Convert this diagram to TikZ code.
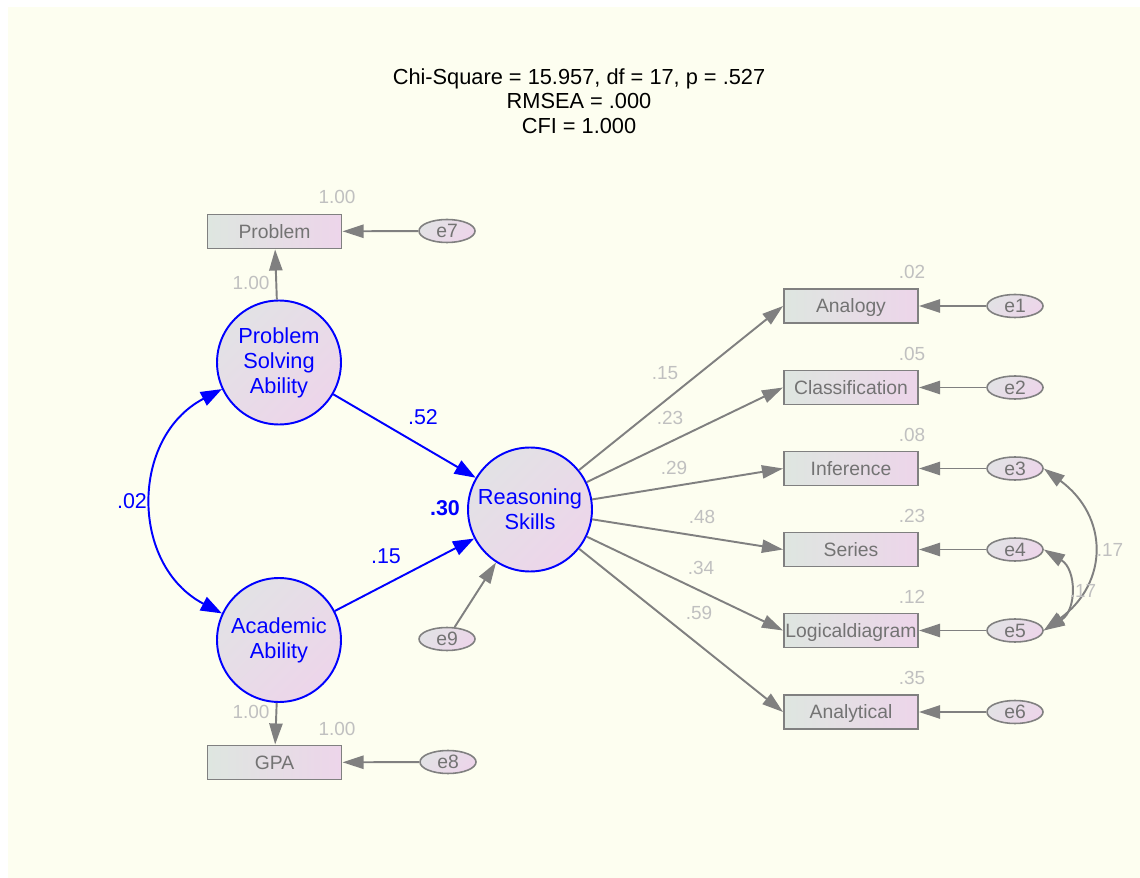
\documentclass[tikz,border=0pt]{standalone}
\usepackage{fontspec}
\setmainfont{Liberation Sans}
\usepackage{tikz}
\usetikzlibrary{arrows.meta,shapes.geometric,positioning}

\definecolor{bgyellow}{RGB}{253,254,240}
\definecolor{linegray}{RGB}{128,128,128}
\definecolor{valgray}{RGB}{192,192,192}
\definecolor{txtgray}{RGB}{115,115,115}
\definecolor{fillgreen}{RGB}{222,230,224}
\definecolor{fillgrey}{RGB}{226,226,229}
\definecolor{fillpink}{RGB}{237,213,234}

\begin{document}
\begin{tikzpicture}[x=0.02cm, y=-0.02cm,
		latent/.style={circle, draw=blue, line width=1.1pt, minimum size=2.48cm, inner sep=0pt,
			top color=fillgrey, bottom color=fillpink, shading angle=45,
			text=blue, align=center, font=\fontsize{12.4}{14.2}\selectfont},
		observed/.style={rectangle, draw=linegray, line width=1.1pt, minimum width=2.68cm,
			minimum height=0.68cm, inner sep=0pt, left color=fillgreen, right color=fillpink,
			text=txtgray, text height=7.9pt, text depth=0pt, font=\fontsize{11}{13}\selectfont},
		errvar/.style={ellipse, draw=linegray, line width=0.9pt, minimum width=1.12cm,
			minimum height=0.46cm, inner sep=0pt, top color=fillgrey, bottom color=fillpink,
			shading angle=45, text=txtgray, text height=7.9pt, text depth=0pt,
			font=\fontsize{11}{13}\selectfont},
		estim/.style={text=valgray, inner sep=0pt, font=\fontsize{10.8}{13}\selectfont},
		coef/.style={text=blue, inner sep=0pt, font=\fontsize{12.2}{14}\selectfont},
		gline/.style={draw=linegray, line width=1.1pt, -{Triangle[length=12pt, width=7.5pt]}},
		bline/.style={draw=blue, line width=1.1pt, -{Triangle[length=12pt, width=8.5pt]}},
		gcov/.style={draw=linegray, line width=1.1pt, {Triangle[length=12pt, width=7.5pt]}-{Triangle[length=12pt, width=7.5pt]}},
		bcov/.style={draw=blue, line width=1.1pt, {Triangle[length=12pt, width=8.5pt]}-{Triangle[length=12pt, width=8.5pt]}}
		]

		% --- fond ---
		\useasboundingbox (0,0) rectangle (1140,878);
		\fill[white] (0,0) rectangle (1140,878);
		\fill[bgyellow] (8,7) rectangle (1140,878);

		% --- indices d'ajustement ---
		\node[align=center, font=\fontsize{12.4}{13.9}\selectfont] (fit) at (579,101)
			{Chi-Square = 15.957, df = 17, p = .527\\RMSEA = .000\\CFI = 1.000};

		% --- variables latentes ---
		\node[latent] (PSA) at (279,362.5) {Problem\\Solving\\Ability};
		\node[latent] (AA) at (279,640) {Academic\\Ability};
		\node[latent] (RS) at (530,509.5) {Reasoning\\Skills};

		% --- variables observées (gauche) ---
		\node[observed] (Problem) at (274.5,231.5) {Problem};
		\node[observed] (GPA) at (274.5,762.5) {GPA};
		\node[errvar] (e7) at (447,231) {e7};
		\node[errvar] (e8) at (448,762) {e8};
		\node[errvar] (e9) at (447,639) {e9};

		% --- variables observées (droite) ---
		\node[observed] (Analogy) at (851,306) {Analogy};
		\node[observed] (Classification) at (851,387.5) {Classification};
		\node[observed] (Inference) at (851,468.5) {Inference};
		\node[observed] (Series) at (851,549.5) {Series};
		\node[observed] (Logical) at (851,630.5) {Logicaldiagram};
		\node[observed] (Analytical) at (851,712) {Analytical};

		\node[errvar] (e1) at (1015,306) {e1};
		\node[errvar] (e2) at (1015,387.5) {e2};
		\node[errvar] (e3) at (1015,468.5) {e3};
		\node[errvar] (e4) at (1015,549.5) {e4};
		\node[errvar] (e5) at (1015,630.5) {e5};
		\node[errvar] (e6) at (1015,712) {e6};

		% Variances expliquées
		\node[estim] (rProblem) at (337,197) {1.00};
		\node[estim] (rGPA) at (337,729) {1.00};
		\node[estim] (rAnalogy) at (912,272) {.02};
		\node[estim] (rClassification) at (912,353.5) {.05};
		\node[estim] (rInference) at (912,434.5) {.08};
		\node[estim] (rSeries) at (912,515.5) {.23};
		\node[estim] (rLogical) at (912,596.5) {.12};
		\node[estim] (rAnalytical) at (912,678) {.35};
		\node[coef, font=\fontsize{12.2}{14}\selectfont\bfseries] (rRS) at (445,508) {.30};

		% Arcs structurels
		\draw[bline] (PSA) -- (RS);
		\draw[bline] (AA) -- (RS);
		\draw[bcov] (PSA.205) .. controls +(-92,48) and +(-92,-48) .. (AA.155);
		\node[coef] (cPSA) at (423,417) {.52};
		\node[coef] (cAA) at (386,556) {.15};
		\node[coef] (cCov) at (132,501) {.02};

		% Arcs de mesure
		\draw[gline] (PSA) -- (Problem);
		\draw[gline] (AA) -- (GPA);
		\draw[gline] (e7) -- (Problem);
		\draw[gline] (e8) -- (GPA);
		\draw[gline] (e9) -- (RS);
		\node[estim] (lProblem) at (251,283) {1.00};
		\node[estim] (lGPA) at (251,712) {1.00};

		\draw[gline] (RS) -- (Analogy.west);
		\draw[gline] (RS) -- (Classification.west);
		\draw[gline] (RS) -- (Inference.west);
		\draw[gline] (RS) -- (Series.west);
		\draw[gline] (RS) -- (Logical.west);
		\draw[gline] (RS) -- (Analytical.west);
		\node[estim] (lAnalogy) at (665,373) {.15};
		\node[estim] (lClassification) at (670,418) {.23};
		\node[estim] (lInference) at (674,468) {.29};
		\node[estim] (lSeries) at (702,517) {.48};
		\node[estim] (lLogical) at (701,568) {.34};
		\node[estim] (lAnalytical) at (699,613) {.59};

		\draw[gline] (e1) -- (Analogy);
		\draw[gline] (e2) -- (Classification);
		\draw[gline] (e3) -- (Inference);
		\draw[gline] (e4) -- (Series);
		\draw[gline] (e5) -- (Logical);
		\draw[gline] (e6) -- (Analytical);

		% Covariances des erreurs
		\draw[gcov] (e3.east) .. controls +(65,48) and +(65,-48) .. (e5.east);
		\draw[gcov] (e4.east) .. controls +(33,20) and +(33,-20) .. (e5.east);
		\node[estim] (c35) at (1110,550) {.17};
		\node[estim] (c45) at (1083,591) {.17};

	\end{tikzpicture}
\end{document}
